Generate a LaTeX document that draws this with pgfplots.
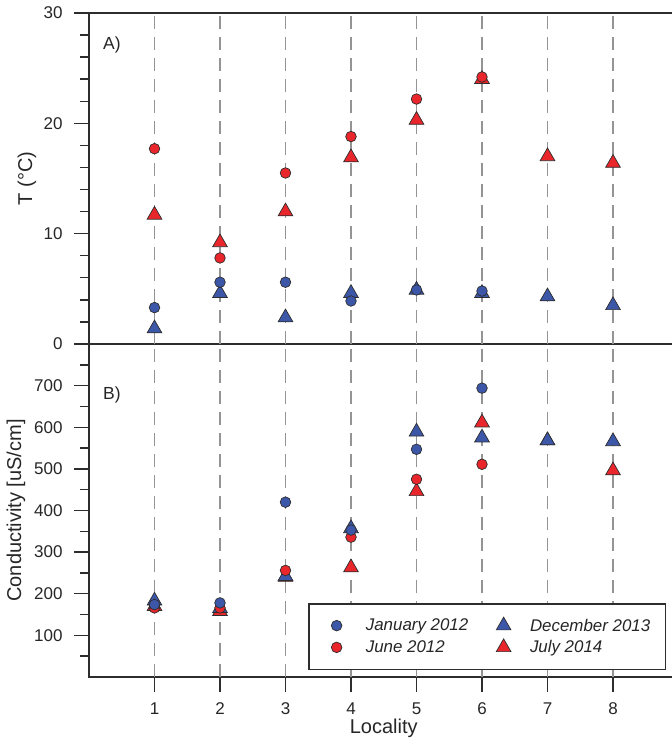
\documentclass[border=0pt]{standalone}
\usepackage{fontspec}
\setmainfont{Liberation Sans}
\usepackage{pgfplots}
\pgfplotsset{compat=1.18}
\definecolor{myblue}{RGB}{60,87,168}
\definecolor{myred}{RGB}{232,38,43}
\definecolor{axcol}{RGB}{45,45,45}
\pgfplotsset{
  panel/.style={
    scale only axis, width=589.5pt, xmin=0, xmax=9,
    axis line style={line width=1.5pt, draw=axcol},
    xtick={1,...,8},
    tick align=outside, ytick pos=left, xtick pos=left,
    major tick length=15pt, minor tick length=9pt,
    every tick/.style={line width=1.4pt, draw=axcol},
    tick label style={font=\fontsize{17}{19}\selectfont, text=black!85},
    yticklabel style={xshift=-8pt},
    /pgf/number format/assume math mode=true,
    label style={font=\fontsize{20}{22}\selectfont, text=black!85},
    clip=false,
  },
  vgrid/.style={ycomb, mark=none, draw=black!42, line width=1.5pt, dash pattern=on 13pt off 8pt, forget plot},
  jan/.style={only marks, mark=*, mark size=5.3pt, mark options={fill=myblue, draw=axcol, line width=0.7pt}},
  jun/.style={only marks, mark=*, mark size=5.3pt, mark options={fill=myred, draw=axcol, line width=0.7pt}},
  dec/.style={only marks, mark=triangle*, mark size=8.5pt, mark options={fill=myblue, draw=axcol, line width=0.7pt}},
  jul/.style={only marks, mark=triangle*, mark size=8.5pt, mark options={fill=myred, draw=axcol, line width=0.7pt}},
  circimg/.style={legend image code/.code={%
      \draw[mark repeat=2,mark phase=2,##1] plot coordinates {(0cm,0cm) (0.3cm,0cm) (0.6cm,0cm)};
      \path (-5.5pt,0pt) (18pt,0pt);}},
}
\begin{document}
\begin{tikzpicture}
\useasboundingbox (-89pt,-63pt) rectangle (583pt,677pt);
% ---------- bottom panel: conductivity ----------
\begin{axis}[panel, clip=false,
  at={(0pt,0pt)}, anchor=south west, height=333pt,
  ymin=0, ymax=800, ytick={100,200,...,700},
  minor ytick={50,150,...,750},
  xticklabel style={yshift=-7pt},
  ylabel={Conductivity [uS/cm]},
  ylabel style={at={(axis description cs:-0.1238,0.5)}, anchor=center},
  xlabel={Locality},
  xlabel style={at={(axis description cs:0.5,-0.153)}, anchor=center},
  legend columns=2,
  legend cell align=left,
  legend style={at={(0.9788,0.021)}, anchor=south east,
    draw=axcol, line width=1.5pt, inner xsep=13pt, inner ysep=13pt,
    font=\itshape\fontsize{16.9}{19}\selectfont, text=black!85,
    /tikz/every even column/.append style={column sep=26pt},
    /tikz/every odd column/.append style={column sep=17pt},
    row sep=4pt},
]
\addplot[vgrid] coordinates {(1,800)(2,800)(3,800)(4,800)(5,800)(6,800)(7,800)(8,800)};
\addplot[draw=axcol, line width=1.4pt, mark=none, unbounded coords=jump, forget plot] coordinates {
  (1,0)(1,-21.6)(1,nan)(2,0)(2,-21.6)(2,nan)(3,0)(3,-21.6)(3,nan)(4,0)(4,-21.6)(4,nan)
  (5,0)(5,-21.6)(5,nan)(6,0)(6,-21.6)(6,nan)(7,0)(7,-21.6)(7,nan)(8,0)(8,-21.6)};
\addplot[jul, forget plot] coordinates {(1,170)(2,158)(3,240)(4,263)(5,446)(6,611)(7,568)(8,496)};
\addplot[dec, forget plot] coordinates {(1,183)(2,165)(3,242)(4,357)(5,589)(6,575)(7,568)(8,566)};
\addplot[jun, forget plot] coordinates {(1,166)(2,166)(3,256)(4,336)(5,475)(6,511)};
\addplot[jan, forget plot] coordinates {(1,174)(2,178)(3,420)(4,353)(5,547)(6,694)};
\addlegendimage{jan, circimg}
\addlegendimage{dec}
\addlegendimage{jun, circimg}
\addlegendimage{jul}
\legend{January 2012, December 2013, June 2012, July 2014}
\node[anchor=north west, inner sep=0pt, font=\fontsize{17.5}{19}\selectfont, text=black!85] at (rel axis cs:0,1) [xshift=14pt, yshift=-43pt] {B)};
\end{axis}
% ---------- top panel: temperature ----------
\begin{axis}[panel, clip=false,
  at={(0pt,333pt)}, anchor=south west, height=331pt,
  ymin=0, ymax=30, ytick={0,10,20,30},
  minor ytick={2,4,6,8,12,14,16,18,22,24,26,28},
  xticklabel style={text opacity=0}, xtick style={draw=none},
  ylabel={T (°C)},
  ylabel style={at={(axis description cs:-0.1052,0.5)}, anchor=center},
]
\addplot[vgrid] coordinates {(1,30)(2,30)(3,30)(4,30)(5,30)(6,30)(7,30)(8,30)};
\addplot[jul, forget plot] coordinates {(1,11.7)(2,9.2)(3,12.0)(4,16.9)(5,20.3)(6,24.0)(7,17.0)(8,16.4)};
\addplot[dec, forget plot] coordinates {(1,1.4)(2,4.6)(3,2.4)(4,4.6)(5,4.9)(6,4.6)(7,4.3)(8,3.5)};
\addplot[jun, forget plot] coordinates {(1,17.7)(2,7.8)(3,15.5)(4,18.8)(5,22.2)(6,24.2)};
\addplot[jan, forget plot] coordinates {(1,3.3)(2,5.6)(3,5.6)(4,3.9)(5,4.9)(6,4.8)};
\node[anchor=north west, inner sep=0pt, font=\fontsize{17.5}{19}\selectfont, text=black!85] at (rel axis cs:0,1) [xshift=14pt, yshift=-24pt] {A)};
\end{axis}
\end{tikzpicture}
\end{document}
